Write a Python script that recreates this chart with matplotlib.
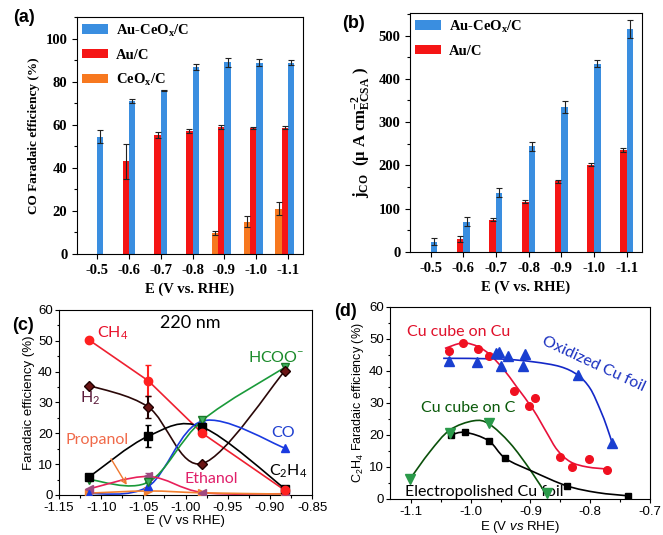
import numpy as np
import matplotlib
matplotlib.use('Agg')
import matplotlib.pyplot as plt
from matplotlib.path import Path
from matplotlib.patches import PathPatch
from matplotlib.ticker import MultipleLocator, FormatStrFormatter

plt.rcParams['mathtext.fontset'] = 'custom'
plt.rcParams['mathtext.rm'] = 'Liberation Sans'
plt.rcParams['mathtext.it'] = 'Liberation Sans:italic'

# ---------------- data (a) / (b)
potentials = ['-0.5', '-0.6', '-0.7', '-0.8', '-0.9', '-1.0', '-1.1']
fe_auceo = [54.5, 71.0, 76.0, 86.7, 89.0, 88.8, 88.7]
fe_auceo_err = [3.0, 1.0, 0.3, 1.5, 2.0, 1.5, 1.2]
fe_au = [np.nan, 43.0, 55.3, 57.0, 59.0, 58.5, 58.7]
fe_au_err = [np.nan, 8.0, 1.5, 1.0, 1.0, 0.6, 0.6]
fe_ceo = [np.nan, np.nan, np.nan, np.nan, 9.7, 15.0, 21.0]
fe_ceo_err = [np.nan, np.nan, np.nan, np.nan, 1.0, 2.5, 3.0]

j_auceo = [24, 70, 137, 244, 335, 435, 515]
j_auceo_err = [8, 10, 10, 10, 13, 8, 20]
j_au = [np.nan, 31, 75, 116, 163, 202, 236]
j_au_err = [np.nan, 7, 4, 3, 3, 3, 5]

# ---------------- data (c)
e_c = [-1.114, -1.044, -0.980, -0.882]
ch4 = [50.2, 37.0, 20.0, 1.5]
ch4_err = [0, 5.0, 0, 0]
h2 = [35.5, 28.5, 10.2, 40.3]
h2_err = [0, 3.5, 0, 0]
c2h4 = [5.9, 19.1, 22.0, 2.0]
c2h4_err = [0, 3.7, 0, 0]
co = [0.4, 2.8, 24.0, 15.2]
hcoo = [5.0, 4.2, 24.2, 41.4]
hcoo_err = [0, 0, 0, 0.8]
ethanol = [2.0, 6.0, 0.8, 0.4]
ethanol_err = [0, 1.0, 0, 0]
propanol = [0.6, 1.3, 0.7, 0.3]

# ---------------- data (d)
cube_cu_e = [-1.037, -1.013, -0.987, -0.969, -0.927, -0.902, -0.893, -0.850, -0.830, -0.802, -0.771]
cube_cu_fe = [46.2, 48.6, 46.8, 44.7, 33.8, 29.1, 31.6, 13.2, 10.1, 12.6, 9.0]
cube_cu_fit_e = [-1.043, -1.013, -0.987, -0.967, -0.945, -0.923, -0.895, -0.872, -0.855, -0.833, -0.805, -0.769]
cube_cu_fit_fe = [47.0, 48.7, 47.5, 44.9, 40.5, 35.0, 27.8, 20.5, 15.3, 11.6, 10.0, 9.3]

oxid_e = [-1.036, -0.989, -0.957, -0.952, -0.949, -0.938, -0.9125, -0.909, -0.821, -0.763]
oxid_fe = [43.1, 42.7, 45.5, 46.0, 41.5, 44.6, 41.5, 45.2, 38.7, 17.4]
oxid_fit_e = [-1.046, -0.951, -0.895, -0.850, -0.821, -0.800, -0.783, -0.772, -0.763]
oxid_fit_fe = [43.9, 43.7, 42.8, 41.3, 38.7, 34.5, 27.8, 22.5, 17.4]

cube_c_e = [-1.102, -1.035, -0.969, -0.873]
cube_c_fe = [6.1, 20.5, 23.6, 2.0]
cube_c_fit_e = [-1.102, -1.068, -1.035, -0.995, -0.969, -0.934, -0.900, -0.873]
cube_c_fit_fe = [6.1, 14.8, 21.5, 24.4, 23.4, 17.4, 9.0, 1.2]

electro_e = [-1.033, -1.009, -0.970, -0.942, -0.839, -0.737]
electro_fe = [20.0, 20.8, 18.2, 12.7, 4.1, 1.0]
electro_fit_e = [-1.033, -1.009, -0.970, -0.942, -0.895, -0.839, -0.788, -0.737]
electro_fit_fe = [20.0, 20.8, 18.2, 12.7, 8.5, 4.1, 2.0, 1.0]

BLUE = '#3a8ee0'
RED = '#f51515'
ORANGE = '#f7781f'
SERIF = 'Liberation Serif'
SANS = 'Liberation Sans'
LABF = 'Lato'


def smooth(ax, x, y, color, lw=1.2):
    # smooth curve through the given points (Catmull-Rom drawn as bezier)
    p = np.column_stack([x, y]).astype(float)
    n = len(p)
    verts = [p[0]]
    codes = [Path.MOVETO]
    for i in range(n - 1):
        p0 = p[max(i - 1, 0)]
        p1 = p[i]
        p2 = p[i + 1]
        p3 = p[min(i + 2, n - 1)]
        verts += [p1 + (p2 - p0) / 6, p2 - (p3 - p1) / 6, p2]
        codes += [Path.CURVE4] * 3
    ax.add_patch(PathPatch(Path(verts, codes), fill=False, edgecolor=color, lw=lw, zorder=2))


def bar_panel(ax, series, ymax, major, minor, ylabel, ylsize):
    x = np.arange(len(potentials))
    for vals, errs, color, off, lab in series:
        v = np.array(vals, float)
        ax.bar(x + off, v, 0.2, color=color, label=lab, zorder=2)
        ax.errorbar(x + off, v, yerr=np.array(errs, float), fmt='none', ecolor='#222222',
                    elinewidth=0.8, capsize=2, capthick=0.8, zorder=3)
    ax.set_xticks(x)
    ax.set_xticklabels(potentials)
    ax.set_xlim(-0.63, 6.47)
    ax.set_ylim(0, ymax)
    ax.yaxis.set_major_locator(MultipleLocator(major))
    ax.yaxis.set_minor_locator(MultipleLocator(minor))
    ax.tick_params(direction='out', length=3.5, width=0.8)
    ax.tick_params(which='minor', length=2, width=0.8)
    for t in ax.get_xticklabels() + ax.get_yticklabels():
        t.set_fontfamily(SERIF)
        t.set_fontweight('bold')
        t.set_fontsize(10.5)
    ax.set_xlabel('E (V vs. RHE)', fontfamily=SERIF, fontweight='bold', fontsize=10.5)
    ax.set_ylabel(ylabel, fontfamily=SERIF, fontweight='bold', fontsize=ylsize)
    ax.legend(loc='upper left', frameon=False, prop={'family': SERIF, 'weight': 'bold', 'size': 10.5},
              handlelength=1.8, handleheight=0.6, handletextpad=0.5, labelspacing=0.7,
              borderaxespad=0.1, borderpad=0.25)


def line_style(ax, xmaj, xmin, fmt, xlabel, ylabel, ylsize):
    ax.set_ylim(0, 60)
    ax.yaxis.set_major_locator(MultipleLocator(10))
    ax.yaxis.set_minor_locator(MultipleLocator(5))
    ax.xaxis.set_major_locator(MultipleLocator(xmaj))
    ax.xaxis.set_minor_locator(MultipleLocator(xmin))
    ax.xaxis.set_major_formatter(FormatStrFormatter(fmt))
    ax.tick_params(direction='out', length=3, width=0.8, labelsize=9.5, pad=1.5)
    ax.tick_params(axis='x', pad=2)
    ax.tick_params(which='minor', length=1.8, width=0.8)
    for t in ax.get_xticklabels() + ax.get_yticklabels():
        t.set_fontfamily(SANS)
    ax.set_xlabel(xlabel, fontfamily=SANS, fontsize=9.5, labelpad=0.5)
    ax.set_ylabel(ylabel, fontfamily=SANS, fontsize=ylsize, labelpad=2)


fig = plt.figure(figsize=(6.63, 5.35), dpi=100)

# (a)
ax1 = fig.add_axes([0.1161, 0.5252, 0.341, 0.443])
bar_panel(ax1, [(fe_auceo, fe_auceo_err, BLUE, 0.1, r'Au-CeO$_\mathregular{x}$/C'),
                (fe_au, fe_au_err, RED, -0.1, 'Au/C'),
                (fe_ceo, fe_ceo_err, ORANGE, -0.3, r'CeO$_\mathregular{x}$/C')],
          110, 20, 10, 'CO Faradaic efficiency (%)', 9.5)

# (b)
ax2 = fig.add_axes([0.6184, 0.529, 0.350, 0.4467])
bar_panel(ax2, [(j_auceo, j_auceo_err, BLUE, 0.1, r'Au-CeO$_\mathregular{x}$/C'),
                (j_au, j_au_err, RED, -0.1, 'Au/C')],
          552, 100, 50, r'j$_\mathregular{CO}$  (μ A cm$^\mathregular{-2}_\mathregular{ECSA}$ )', 12)

# (c)
ax3 = fig.add_axes([0.089, 0.0748, 0.3816, 0.3458])
ax3.set_xlim(-1.15, -0.85)
line_style(ax3, 0.05, 0.025, '%.2f', 'E (V vs RHE)', 'Faradaic efficiency (%)', 9.5)

ax3.plot(e_c, ch4, color='#ee2030', lw=1.2, zorder=2)
smooth(ax3, e_c, h2, '#2a0808')
smooth(ax3, e_c, c2h4, 'black')
smooth(ax3, e_c, co, '#1a3ae0')
smooth(ax3, e_c, hcoo, '#1a9a3a')
smooth(ax3, e_c, ethanol, '#e8205a')
smooth(ax3, e_c, propanol, '#f28030')
mk = dict(ls='none', markersize=6, zorder=4)
ax3.errorbar(e_c, propanol, fmt='>', color='#f28030', **mk)
ax3.errorbar(e_c, ethanol, yerr=ethanol_err, fmt='<', color='#a04a80', ecolor='#a04a80', capsize=2, **mk)
ax3.errorbar(e_c, co, fmt='^', color='#1a3ae0', **mk)
ax3.errorbar(e_c, hcoo, yerr=hcoo_err, fmt='v', color='#40b060', mec='#1a7a2a', ecolor='#1a7a2a', capsize=2, **mk)
ax3.errorbar(e_c, c2h4, yerr=c2h4_err, fmt='s', color='black', capsize=2, **mk)
ax3.errorbar(e_c, h2, yerr=h2_err, fmt='D', color='#6a1515', mec='#200000', ecolor='#200000', capsize=2,
             ls='none', markersize=5.5, zorder=5)
ax3.errorbar(e_c, ch4, yerr=ch4_err, fmt='o', color='#ff2020', ecolor='#ff2020', capsize=2, **mk)
ax3.annotate('', xy=(-1.068, 2.5), xytext=(-1.09, 12.5),
             arrowprops=dict(arrowstyle='->', color='#f07830', lw=1))
tk = dict(fontfamily=LABF, fontsize=11.5, ha='center', va='center')
ax3.text(-0.994, 55.7, '220 nm', color='black', **{**tk, 'fontsize': 13})
ax3.text(-1.086, 52.4, r'CH$_\mathregular{4}$', color='#e8102a', **tk)
ax3.text(-1.113, 31.4, r'H$_\mathregular{2}$', color='#5a1a3a', **tk)
ax3.text(-1.105, 17.8, 'Propanol', color='#f06a4a', **tk)
ax3.text(-0.969, 5.1, 'Ethanol', color='#e0206a', **tk)
ax3.text(-0.893, 44.6, r'HCOO$^\mathregular{-}$', color='#1a8a2a', **tk)
ax3.text(-0.884, 20.0, 'CO', color='#2040d0', **tk)
ax3.text(-0.878, 7.8, r'C$_\mathregular{2}$H$_\mathregular{4}$', color='black', **tk)

# (d)
ax4 = fig.add_axes([0.5882, 0.0673, 0.392, 0.3594])
ax4.set_xlim(-1.135, -0.7)
line_style(ax4, 0.1, 0.05, '%.1f', r'E (V $\mathit{vs}$ RHE)',
           r'C$_\mathregular{2}$H$_\mathregular{4}$ Faradaic efficiency (%)', 9)
smooth(ax4, cube_cu_fit_e, cube_cu_fit_fe, '#e8103a')
smooth(ax4, oxid_fit_e, oxid_fit_fe, '#1428c8')
smooth(ax4, cube_c_fit_e, cube_c_fit_fe, '#0a500a')
smooth(ax4, electro_fit_e, electro_fit_fe, 'black')
ax4.plot(cube_cu_e, cube_cu_fe, 'o', color='#f01020', markersize=5.5, zorder=4)
ax4.plot(oxid_e, oxid_fe, '^', color='#1a3fd0', markersize=7, zorder=4)
ax4.plot(electro_e, electro_fe, 's', color='black', markersize=5, zorder=4)
ax4.plot(cube_c_e, cube_c_fe, 'v', color='#2a9a4a', markersize=7, zorder=4)
ax4.text(-1.02, 52.2, 'Cu cube on Cu', color='#e0102a', **tk)
ax4.text(-0.795, 42.1, 'Oxidized Cu foil', color='#1a30c0', rotation=-25, **tk)
ax4.text(-1.004, 28.3, 'Cu cube on C', color='#0a5a0a', **tk)
ax4.text(-0.977, 2.3, 'Electropolished Cu foil', color='black', **tk)

# panel labels
pl = dict(fontfamily=SANS, fontweight='bold', fontsize=13, ha='left', va='center')
fig.text(13 / 663, 1 - 18 / 535, '(a)', **pl)
fig.text(342 / 663, 1 - 23 / 535, '(b)', **pl)
fig.text(12 / 663, 1 - 325 / 535, '(c)', **pl)
fig.text(334 / 663, 1 - 312 / 535, '(d)', **pl)

fig.savefig('out.png', dpi=100)
